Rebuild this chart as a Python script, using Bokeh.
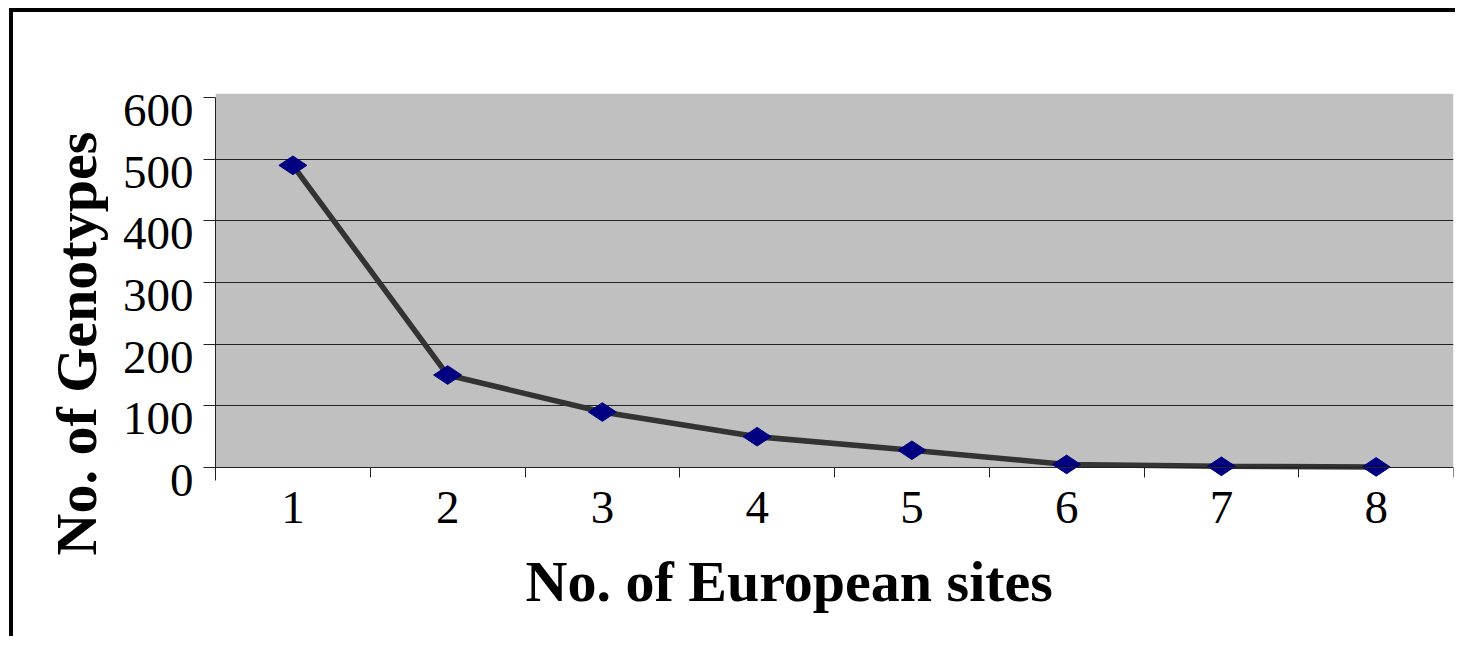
import math
from bokeh.plotting import figure
from bokeh.models import Range1d, FixedTicker, Title, BoxAnnotation, LinearAxis
from bokeh.embed import file_html
from bokeh.resources import INLINE

# ---- data ----
sites = [1, 2, 3, 4, 5, 6, 7, 8]
genotypes = [490, 150, 90, 50, 28, 5, 2, 1]
y_ticks = [0, 100, 200, 300, 400, 500, 600]
y_tick_labels = ["0", "100", "200", "300", "400", "500", "600"]
x_tick_labels = ["1", "2", "3", "4", "5", "6", "7", "8"]
x_title = "No. of European sites"
y_title = "No. of Genotypes"

FONT = "Liberation Serif"
Y_BOTTOM = -27.5     # a little room below zero for the shifted "0" label
Y_TOP = 606.5
LABEL_SHIFT = 21.0   # y tick labels sit a bit below their tick marks

p = figure(width=1446, height=628,
           x_range=Range1d(sites[0] - 0.5, sites[-1] + 0.5),
           y_range=Range1d(Y_BOTTOM, Y_TOP),
           output_backend="svg", toolbar_location=None,
           min_border_left=202, min_border_top=81,
           min_border_right=6, min_border_bottom=156,
           background_fill_color="white", border_fill_color="white",
           outline_line_color=None)
p.styles = {"border-top": "4px solid black", "border-left": "4px solid black",
            "margin-left": "9px", "margin-top": "8px"}
p.title.visible = False

# grey plot area from y = 0 upward
p.add_layout(BoxAnnotation(bottom=y_ticks[0], fill_color="#C0C0C0", fill_alpha=1,
                           line_color=None, level="image"))

# x tick labels (category centres) on the bottom axis
xb = p.xaxis[0]
xb.ticker = FixedTicker(ticks=sites, minor_ticks=[])
xb.major_label_overrides = {s: l for s, l in zip(sites, x_tick_labels)}
xb.major_tick_line_color = None
xb.minor_tick_line_color = None
xb.axis_line_color = None
xb.major_label_text_font = FONT
xb.major_label_text_font_size = "47px"
xb.major_label_text_color = "black"
xb.major_label_standoff = 1

# x axis line at y = 0 with tick marks at the category boundaries
bounds_x = [s - 0.5 for s in sites] + [sites[-1] + 0.5]
xl = LinearAxis(fixed_location=y_ticks[0],
                ticker=FixedTicker(ticks=[], minor_ticks=bounds_x))
xl.major_tick_line_color = None
xl.minor_tick_out = 10
xl.minor_tick_in = 0
xl.minor_tick_line_color = "#222222"
xl.axis_line_color = "#222222"
xl.major_label_standoff = 0
p.add_layout(xl, "below")

# y axis: tick marks at the values, labels slightly below them
ya = p.yaxis[0]
label_pos = [v - LABEL_SHIFT for v in y_ticks]
ya.ticker = FixedTicker(ticks=label_pos, minor_ticks=y_ticks)
ya.major_label_overrides = {pos: l for pos, l in zip(label_pos, y_tick_labels)}
ya.bounds = (y_ticks[0] - LABEL_SHIFT - 0.5, y_ticks[-1])
ya.major_tick_line_color = None
ya.minor_tick_out = 12
ya.minor_tick_in = 0
ya.minor_tick_line_color = "#222222"
ya.axis_line_color = "#222222"
ya.major_label_text_font = FONT
ya.major_label_text_font_size = "47px"
ya.major_label_text_color = "black"
ya.major_label_standoff = 10

# grid
p.xgrid.visible = False
p.ygrid.ticker = FixedTicker(ticks=y_ticks[1:-1])
p.ygrid.grid_line_color = "#222222"
p.ygrid.grid_line_width = 1

# axis titles
p.add_layout(Title(text=y_title, align="left", offset=-71, vertical_align="bottom",
                   text_font=FONT, text_font_size="58px", text_font_style="bold",
                   text_color="black", standoff=22), "left")
p.add_layout(Title(text=x_title, align="left", offset=310, vertical_align="top",
                   text_font=FONT, text_font_size="58px", text_font_style="bold",
                   text_color="black", standoff=46), "below")

# data
p.line(sites, genotypes, line_color="#333333", line_width=5.5)
p.scatter(sites, genotypes, marker="diamond", size=28, angle=math.pi / 2,
          fill_color="#000080", line_color="#000080")

open("out.html", "w").write(file_html(p, INLINE))
